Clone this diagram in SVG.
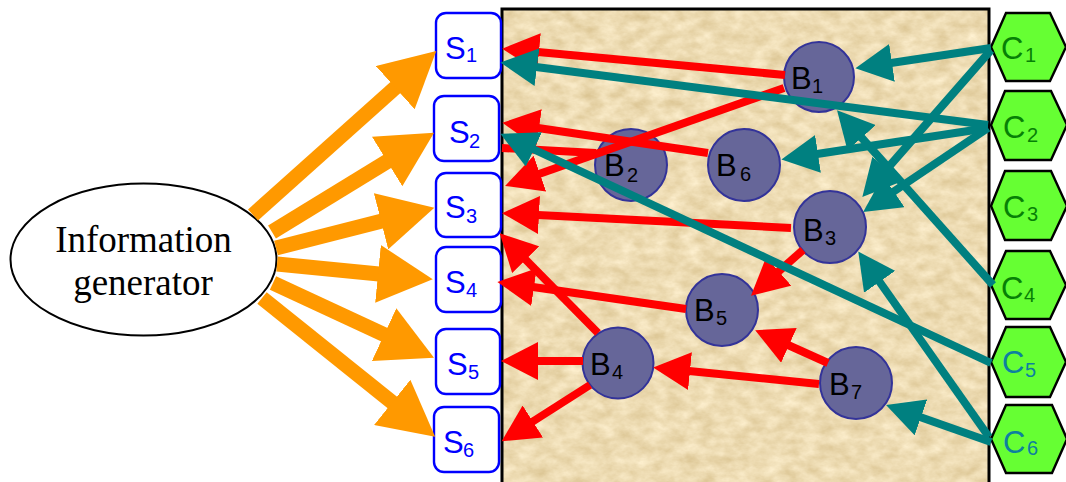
<svg xmlns="http://www.w3.org/2000/svg" width="1066" height="482" viewBox="0 0 1066 482">
<style>
text{font-family:"Liberation Sans",Arial,sans-serif;font-size:31px}
text.sub{font-size:20px}
.serif{font-family:"Liberation Serif","Times New Roman",serif;font-size:37px}
.s rect{fill:#fff;stroke:#0000ff;stroke-width:2.4}
.s text{fill:#0000ff}
.b circle{fill:#666699;stroke:#333399;stroke-width:2}
.b text{fill:#000}
.c polygon{fill:#66ff33;stroke:#000;stroke-width:2.4}
.c text{fill:#068006}
.c text.blue{fill:#0d80a0}
.o{stroke:#ff9900;stroke-width:15;marker-end:url(#ho)}
.r{stroke:#ff0000;stroke-width:8;marker-end:url(#hr)}
.r0{stroke:#ff0000;stroke-width:8}
.t{stroke:#008080;stroke-width:8;marker-end:url(#ht)}
</style>
<defs>
<filter id="paper" x="0" y="0" width="1" height="1" color-interpolation-filters="sRGB">
<feTurbulence type="fractalNoise" baseFrequency="0.06 0.09" numOctaves="4" seed="7"/>
<feColorMatrix type="matrix" values="0.16 0 0 0 0.85  0.2 0 0 0 0.76  0.28 0 0 0 0.56  0 0 0 0 1"/>
</filter>
<marker id="ho" markerUnits="userSpaceOnUse" markerWidth="56" markerHeight="58" refX="1" refY="29" orient="auto"><path d="M0,0L55,29L0,58Z" fill="#ff9900"/></marker>
<marker id="hr" markerUnits="userSpaceOnUse" markerWidth="38" markerHeight="38" refX="1" refY="19" orient="auto"><path d="M0,0L37,19L0,38Z" fill="#ff0000"/></marker>
<marker id="ht" markerUnits="userSpaceOnUse" markerWidth="38" markerHeight="38" refX="1" refY="19" orient="auto"><path d="M0,0L37,19L0,38Z" fill="#008080"/></marker>
</defs>
<rect id="panel" x="502" y="9" width="487" height="475" fill="#e6d3a9" filter="url(#paper)"/>
<path d="M502,484V9H989V484" fill="none" stroke="#000" stroke-width="3"/>
<g id="generator">
<ellipse cx="143.5" cy="259.5" rx="133" ry="76" fill="#fff" stroke="#000" stroke-width="2"/>
<text class="serif" x="143.5" y="252" text-anchor="middle">Information</text>
<text class="serif" x="143" y="295" text-anchor="middle">generator</text>
</g>
<g id="S1" class="s"><rect x="436" y="13" width="65" height="65" rx="10"/><text x="445" y="59">S</text><text class="sub" x="466" y="62">1</text></g>
<g id="S2" class="s"><rect x="434" y="96" width="65" height="65" rx="10"/><text x="449" y="143">S</text><text class="sub" x="469" y="148">2</text></g>
<g id="S3" class="s"><rect x="436" y="173" width="65" height="64" rx="10"/><text x="445" y="218">S</text><text class="sub" x="466" y="223">3</text></g>
<g id="S4" class="s"><rect x="436" y="247" width="65" height="65" rx="10"/><text x="445" y="293">S</text><text class="sub" x="466" y="297">4</text></g>
<g id="S5" class="s"><rect x="436" y="329" width="64" height="65" rx="10"/><text x="447" y="375">S</text><text class="sub" x="468" y="379">5</text></g>
<g id="S6" class="s"><rect x="434" y="407" width="65" height="65" rx="10"/><text x="443" y="453">S</text><text class="sub" x="463" y="457">6</text></g>
<g id="B1" class="b"><circle cx="819" cy="77" r="35"/><text x="791" y="89">B</text><text class="sub" x="812" y="93">1</text></g>
<g id="B2" class="b"><circle cx="631" cy="165" r="36"/><text x="604" y="176">B</text><text class="sub" x="627" y="182">2</text></g>
<g id="B3" class="b"><circle cx="830" cy="227" r="36"/><text x="803" y="241">B</text><text class="sub" x="825" y="245">3</text></g>
<g id="B4" class="b"><circle cx="618" cy="363" r="35.5"/><text x="590" y="375">B</text><text class="sub" x="612" y="379">4</text></g>
<g id="B5" class="b"><circle cx="722" cy="310" r="36"/><text x="694" y="321">B</text><text class="sub" x="716" y="325">5</text></g>
<g id="B6" class="b"><circle cx="744" cy="165" r="36"/><text x="716" y="176">B</text><text class="sub" x="740" y="181">6</text></g>
<g id="B7" class="b"><circle cx="856" cy="383" r="36"/><text x="829" y="395">B</text><text class="sub" x="851" y="399">7</text></g>
<g id="C1" class="c"><polygon points="991,47 1006,13 1050,13 1066,47 1050,81 1006,81"/><text x="1001" y="59">C</text><text class="sub" x="1025" y="62">1</text></g>
<g id="C2" class="c"><polygon points="991,125 1005,91 1051,91 1067,125 1051,160 1005,160"/><text x="1003" y="138">C</text><text class="sub" x="1027" y="142">2</text></g>
<g id="C3" class="c"><polygon points="991,206 1005,171 1051,171 1067,206 1051,240 1005,240"/><text x="1003" y="218">C</text><text class="sub" x="1027" y="221">3</text></g>
<g id="C4" class="c"><polygon points="991,285 1006,251 1050,251 1066,285 1050,319 1006,319"/><text x="1001" y="299">C</text><text class="sub" x="1024" y="302">4</text></g>
<g id="C5" class="c"><polygon points="991,362 1006,327 1050,327 1066,362 1050,397 1006,397"/><text class="blue" x="1002" y="373">C</text><text class="sub blue" x="1025" y="377">5</text></g>
<g id="C6" class="c"><polygon points="991,439 1006,405 1052,405 1067,439 1052,473 1006,473"/><text class="blue" x="1003" y="453">C</text><text class="sub blue" x="1027" y="455">6</text></g>
<g id="connectors">
<line class="o" x1="253" y1="215" x2="396" y2="87"/>
<line class="o" x1="272" y1="232" x2="388" y2="161"/>
<line class="o" x1="276" y1="248" x2="382" y2="221"/>
<line class="o" x1="277" y1="264" x2="379" y2="274"/>
<line class="o" x1="273" y1="283" x2="385" y2="335"/>
<line class="o" x1="262" y1="298" x2="393" y2="403"/>
<line class="r" x1="785" y1="75" x2="538" y2="52"/>
<line class="r" x1="784" y1="88" x2="539" y2="174"/>
<line class="r" x1="708" y1="153" x2="538" y2="128"/>
<line class="r0" x1="596" y1="153" x2="502" y2="148"/>
<line class="r" x1="791" y1="228" x2="538" y2="215"/>
<line class="r" x1="803" y1="250" x2="778" y2="272"/>
<line class="r" x1="686" y1="309" x2="533" y2="287"/>
<line class="r" x1="598" y1="333" x2="525" y2="259"/>
<line class="r" x1="583" y1="361" x2="537" y2="361"/>
<line class="r" x1="590" y1="385" x2="532" y2="422"/>
<line class="r" x1="819" y1="384" x2="689" y2="371"/>
<line class="r" x1="828" y1="363" x2="788" y2="345"/>
<line class="t" x1="991" y1="48" x2="891" y2="63"/>
<line class="t" x1="988" y1="125" x2="536" y2="67"/>
<line class="t" x1="988" y1="128" x2="817" y2="154"/>
<line class="t" x1="991" y1="50" x2="886" y2="170"/>
<line class="t" x1="988" y1="128" x2="893" y2="192"/>
<line class="t" x1="993" y1="285" x2="861" y2="137"/>
<line class="t" x1="991" y1="363" x2="533" y2="149"/>
<line class="t" x1="989" y1="437" x2="879" y2="281"/>
<line class="t" x1="991" y1="442" x2="920" y2="417"/>
</g>
</svg>
